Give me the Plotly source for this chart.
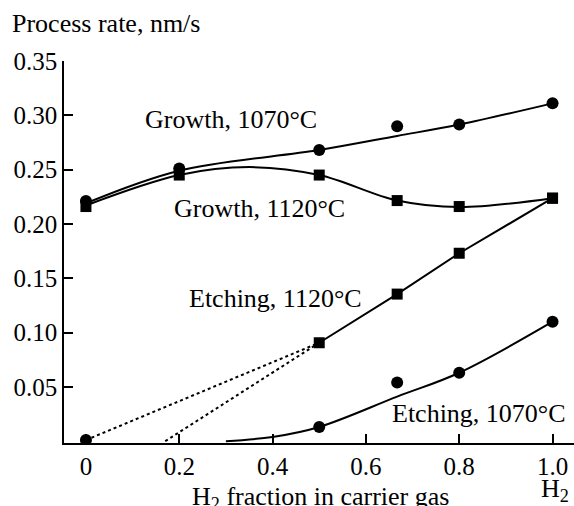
import plotly.graph_objects as go

# ---- data ----
x_pts = [0, 0.2, 0.5, 0.667, 0.8, 1.0]
growth_1070 = [0.221, 0.251, 0.268, 0.290, 0.2915, 0.311]
growth_1120 = [0.216, 0.245, 0.245, 0.2215, 0.216, 0.2237]

etch_1120_x = [0.5, 0.667, 0.8, 1.0]
etch_1120 = [0.0906, 0.1354, 0.173, 0.2237]

etch_1070_x = [0, 0.5, 0.667, 0.8, 1.0]
etch_1070 = [0.001, 0.0131, 0.054, 0.063, 0.110]

# fitted curves (as drawn in the figure)
fit_g1070_x = [0, 0.2, 0.5, 0.667, 0.8, 1.0]
fit_g1070_y = [0.219, 0.249, 0.268, 0.281, 0.2915, 0.311]
fit_g1120_x = [0, 0.2, 0.35, 0.5, 0.667, 0.8, 1.0]
fit_g1120_y = [0.217, 0.245, 0.2523, 0.245, 0.2215, 0.2155, 0.2237]
fit_e1070_x = [0.3, 0.4, 0.5, 0.667, 0.8, 1.0]
fit_e1070_y = [0.0, 0.0039, 0.0131, 0.041, 0.063, 0.110]

# dotted extrapolations of the 1120°C etching line
dot1_x = [0, 0.5]
dot1_y = [0.001, 0.0906]
dot2_x = [0.17, 0.5]
dot2_y = [0.0, 0.0906]

x_tick_vals = [0, 0.2, 0.4, 0.6, 0.8, 1.0]
x_tick_text = ["0", "0.2", "0.4", "0.6", "0.8", "1.0"]
y_tick_vals = [0.05, 0.10, 0.15, 0.20, 0.25, 0.30, 0.35]
y_tick_text = ["0.05", "0.10", "0.15", "0.20", "0.25", "0.30", "0.35"]

labels = ["Growth, 1070°C", "Growth, 1120°C", "Etching, 1120°C", "Etching, 1070°C"]

# ---- figure ----
FONT = "Liberation Serif, Times New Roman, serif"
FS = 26
W, H = 574, 506
ML, MR, MT, MB = 64, 0, 61, 63
PW, PH = W - ML - MR, H - MT - MB

def px(xp):
    return (xp - ML) / PW

def py(yp):
    return (H - MB - yp) / PH

fig = go.Figure()
line = dict(color="black", width=2)

fig.add_trace(go.Scatter(x=fit_g1070_x, y=fit_g1070_y, mode="lines",
                         line=dict(color="black", width=2, shape="spline", smoothing=1.0)))
fig.add_trace(go.Scatter(x=fit_g1120_x, y=fit_g1120_y, mode="lines",
                         line=dict(color="black", width=2, shape="spline", smoothing=1.0)))
fig.add_trace(go.Scatter(x=fit_e1070_x, y=fit_e1070_y, mode="lines",
                         line=dict(color="black", width=2, shape="spline", smoothing=1.0)))
fig.add_trace(go.Scatter(x=etch_1120_x, y=etch_1120, mode="lines", line=line))
fig.add_trace(go.Scatter(x=dot1_x, y=dot1_y, mode="lines",
                         line=dict(color="black", width=2, dash="dot")))
fig.add_trace(go.Scatter(x=dot2_x, y=dot2_y, mode="lines",
                         line=dict(color="black", width=2, dash="dot")))

circle = dict(symbol="circle", size=12, color="black")
square = dict(symbol="square", size=11, color="black")
fig.add_trace(go.Scatter(x=x_pts, y=growth_1070, mode="markers", marker=circle))
fig.add_trace(go.Scatter(x=x_pts, y=growth_1120, mode="markers", marker=square))
fig.add_trace(go.Scatter(x=etch_1120_x, y=etch_1120, mode="markers", marker=square))
fig.add_trace(go.Scatter(x=etch_1070_x, y=etch_1070, mode="markers", marker=circle))

ann_font = dict(family=FONT, size=FS, color="black")
label_pos = [(143, 119), (172, 208), (187, 298), (390, 413)]
for txt, (lx, ly) in zip(labels, label_pos):
    fig.add_annotation(text=txt, x=px(lx), y=py(ly), xref="paper", yref="paper",
                       xanchor="left", yanchor="middle", showarrow=False, font=ann_font)

fig.add_annotation(text="Process rate, nm/s", x=px(10), y=py(24), xref="paper", yref="paper",
                   xanchor="left", yanchor="middle", showarrow=False, font=ann_font)
fig.add_annotation(text="H<sub>2</sub> fraction in carrier gas", x=px(320), y=py(498),
                   xref="paper", yref="paper", xanchor="center", yanchor="middle",
                   showarrow=False, font=ann_font)
fig.add_annotation(text="H<sub>2</sub>", x=px(539), y=py(490), xref="paper", yref="paper",
                   xanchor="left", yanchor="middle", showarrow=False, font=ann_font)

fig.update_xaxes(range=[-0.047, 1.046], tickvals=x_tick_vals, ticktext=x_tick_text,
                 ticks="inside", ticklen=9, tickwidth=1.5, tickcolor="black",
                 showline=True, linecolor="black", linewidth=1.5, showgrid=False,
                 zeroline=False, tickfont=dict(family=FONT, size=25, color="black"))
fig.update_yaxes(range=[-0.0017, 0.35], tickvals=y_tick_vals, ticktext=y_tick_text,
                 ticks="inside", ticklen=9, tickwidth=1.5, tickcolor="black",
                 showline=True, linecolor="black", linewidth=1.5, showgrid=False,
                 zeroline=False, tickfont=dict(family=FONT, size=25, color="black"))

fig.update_layout(width=W, height=H, margin=dict(l=ML, r=MR, t=MT, b=MB),
                  plot_bgcolor="white", paper_bgcolor="white", showlegend=False,
                  font=dict(family=FONT, size=FS, color="black"))

fig.write_html("out.html")
